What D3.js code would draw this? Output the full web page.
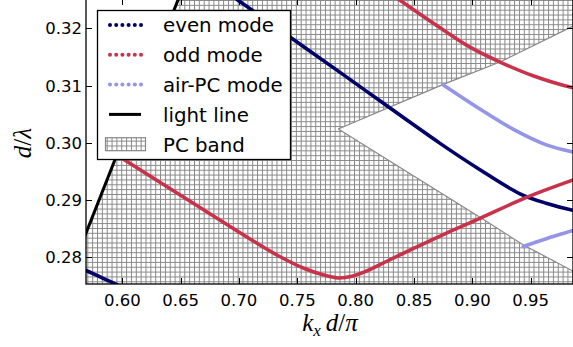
<!DOCTYPE html>
<html>
<head>
<meta charset="utf-8">
<script src="https://cdn.jsdelivr.net/npm/d3@7"></script>
<style>
  body { margin: 0; background: #fff; }
  svg { display: block; }
</style>
</head>
<body>
<script>
const width = 573, height = 347;

// tick labels
const xTicks = [0.60, 0.65, 0.70, 0.75, 0.80, 0.85, 0.90, 0.95];
const yTicks = [0.28, 0.29, 0.30, 0.31, 0.32];

// mode curves, [kx d/pi, d/lambda]
const evenUpper = [[0.690, 0.3263], [0.6992, 0.3249], [0.7866, 0.3123], [0.8723, 0.2999], [0.9065, 0.2953],
  [0.9408, 0.2911], [0.9640, 0.2894], [0.9862, 0.2882], [0.992, 0.2880]];
const evenLower = [[0.565, 0.2781], [0.5689, 0.2777], [0.5818, 0.2765], [0.5946, 0.2753], [0.600, 0.2747]];
const oddUpper = [[0.830, 0.3261], [0.8380, 0.3249], [0.8723, 0.3201], [0.8980, 0.3167], [0.9237, 0.3141],
  [0.9520, 0.3117], [0.9862, 0.3096], [0.992, 0.3094]];
const oddLower = [[0.5912, 0.2984], [0.6237, 0.2942], [0.6666, 0.2887], [0.7094, 0.2832], [0.7352, 0.2801],
  [0.7566, 0.2780], [0.7711, 0.2770], [0.7849, 0.2764], [0.7969, 0.2767], [0.8071, 0.2774],
  [0.8277, 0.2794], [0.8491, 0.2815], [0.8774, 0.2842], [0.9065, 0.2868], [0.9468, 0.2905],
  [0.9862, 0.2935], [0.992, 0.2939]];
const airUpper = [[0.8751, 0.3101], [0.9065, 0.3059], [0.9348, 0.3024], [0.9640, 0.2996], [0.9862, 0.2984], [0.992, 0.2982]];
const airLower = [[0.9436, 0.2819], [0.9640, 0.2833], [0.9862, 0.2847], [0.992, 0.2851]];

// light line and photonic-crystal band gap edges
const lightLine = [[0.565, 0.2822], [0.655, 0.3287]];
const gapUpper = [[0.7851, 0.3024], [0.8751, 0.3102], [0.9237, 0.3141], [0.9845, 0.3202], [1.0, 0.3217]];
const gapLower = [[0.7851, 0.3024], [0.9065, 0.2870], [0.9434, 0.2822], [0.9862, 0.2776], [1.0, 0.2762]];

const legendNames = ["even mode", "odd mode", "air-PC mode", "light line", "PC band"];
const modeColors = ["#000068", "#c8324b", "#9494e8"];

const x = d3.scaleLinear().domain([0.56889, 0.98624]).range([86, 573]);
const y = d3.scaleLinear().domain([0.27534, 0.32511]).range([284, -1]);
const [x0, x1] = x.range();
const [y0, y1] = y.range();

const svg = d3.select("body").append("svg")
  .attr("width", width)
  .attr("height", height);

const defs = svg.append("defs");
defs.append("clipPath").attr("id", "plot")
  .append("rect").attr("x", x0).attr("y", y1).attr("width", x1 - x0).attr("height", y0 - y1);

const hatch = defs.append("pattern").attr("id", "hatch")
  .attr("patternUnits", "userSpaceOnUse")
  .attr("width", 4.85).attr("height", 4.85);
hatch.append("rect").attr("width", 4.85).attr("height", 4.85).attr("fill", "#fff");
hatch.append("path")
  .attr("d", "M0,0.5H4.85M0.5,0V4.85")
  .attr("stroke", "#888").attr("stroke-width", 1).attr("fill", "none");

const line = d3.line().x(d => x(d[0])).y(d => y(d[1]));
const plot = svg.append("g").attr("clip-path", "url(#plot)");

// PC band: everything right of the light line except the band gap wedge
const xl = x.domain()[0] - 0.01, xr = 1.0, yb = y.domain()[0] - 0.01, yt = y.domain()[1] + 0.01;
const bandPoly = [[xl, yb], lightLine[0], lightLine[1], [lightLine[1][0], yt], [xr, yt],
  ...gapUpper.slice().reverse(), ...gapLower.slice(1), [xr, yb]];
plot.append("path")
  .attr("d", line(bandPoly) + "Z")
  .attr("fill", "url(#hatch)");
[gapUpper, gapLower].forEach(edge => {
  plot.append("path").attr("d", line(edge))
    .attr("fill", "none").attr("stroke", "#888").attr("stroke-width", 1.2);
});

const curve = d3.line().curve(d3.curveCatmullRom.alpha(0.5)).x(d => x(d[0])).y(d => y(d[1]));
const series = [[evenUpper, 0], [evenLower, 0], [oddUpper, 1], [oddLower, 1], [airUpper, 2], [airLower, 2]];
series.forEach(([pts, c]) => {
  plot.append("path").attr("d", curve(pts))
    .attr("fill", "none").attr("stroke", modeColors[c])
    .attr("stroke-width", 3.6).attr("stroke-linecap", "round");
});
plot.append("path").attr("d", line(lightLine))
  .attr("fill", "none").attr("stroke", "#000").attr("stroke-width", 3);

// axes frame with inward ticks on all four sides
const tickLen = 6;
const frame = svg.append("g");
frame.append("rect").attr("x", x0).attr("y", y1).attr("width", x1 - x0).attr("height", y0 - y1)
  .attr("fill", "none").attr("stroke", "#000").attr("stroke-width", 1.3);
xTicks.forEach(t => {
  const px = Math.round(x(t)) + 0.5;
  frame.append("line").attr("x1", px).attr("x2", px).attr("y1", y0).attr("y2", y0 - tickLen).attr("stroke", "#000");
  frame.append("line").attr("x1", px).attr("x2", px).attr("y1", y1).attr("y2", y1 + tickLen).attr("stroke", "#000");
  frame.append("text").attr("x", x(t)).attr("y", 306)
    .attr("text-anchor", "middle").attr("font-family", "DejaVu Sans").attr("font-size", 16.5)
    .text(d3.format(".2f")(t));
});
yTicks.forEach(t => {
  const py = Math.round(y(t)) + 0.5;
  frame.append("line").attr("x1", x0).attr("x2", x0 + tickLen).attr("y1", py).attr("y2", py).attr("stroke", "#000");
  frame.append("line").attr("x1", x1).attr("x2", x1 - tickLen).attr("y1", py).attr("y2", py).attr("stroke", "#000");
  frame.append("text").attr("x", 82).attr("y", y(t) + 6)
    .attr("text-anchor", "end").attr("font-family", "DejaVu Sans").attr("font-size", 16.5)
    .text(d3.format(".2f")(t));
});

// axis labels
const xLab = svg.append("text").attr("x", 330).attr("y", 331)
  .attr("text-anchor", "middle").attr("font-family", "Liberation Serif").attr("font-size", 25);
xLab.append("tspan").attr("font-style", "italic").text("k");
xLab.append("tspan").attr("font-style", "italic").attr("font-size", 17).attr("dy", 5).text("x");
xLab.append("tspan").attr("font-style", "italic").attr("dy", -5).attr("dx", 5).text("d");
xLab.append("tspan").text("/");
xLab.append("tspan").attr("font-style", "italic").text("π");

const yLab = svg.append("text").attr("transform", "translate(31,143) rotate(-90)")
  .attr("text-anchor", "middle").attr("font-family", "Liberation Serif").attr("font-size", 25);
yLab.append("tspan").attr("font-style", "italic").text("d");
yLab.append("tspan").text("/");
yLab.append("tspan").attr("font-style", "italic").text("λ");

// legend
const lg = svg.append("g");
lg.append("rect").attr("x", 97.5).attr("y", 10.5).attr("width", 193).attr("height", 149)
  .attr("fill", "#fff").attr("stroke", "#000").attr("stroke-width", 1.3);
legendNames.forEach((name, i) => {
  const cy = 25 + i * 29.8;
  if (i < 3) {
    d3.range(6).forEach(j => {
      lg.append("circle").attr("cx", 110 + j * 6.2).attr("cy", cy).attr("r", 2)
        .attr("fill", modeColors[i]);
    });
  } else if (i === 3) {
    lg.append("line").attr("x1", 109).attr("x2", 141).attr("y1", cy).attr("y2", cy)
      .attr("stroke", "#000").attr("stroke-width", 3);
  } else {
    lg.append("rect").attr("x", 105.5).attr("y", cy - 6.5).attr("width", 40).attr("height", 13)
      .attr("fill", "url(#hatch)").attr("stroke", "#888").attr("stroke-width", 1.2);
  }
  lg.append("text").attr("x", 163).attr("y", cy + 7.3)
    .attr("font-family", "DejaVu Sans").attr("font-size", 19.8)
    .text(name);
});
</script>
</body>
</html>
